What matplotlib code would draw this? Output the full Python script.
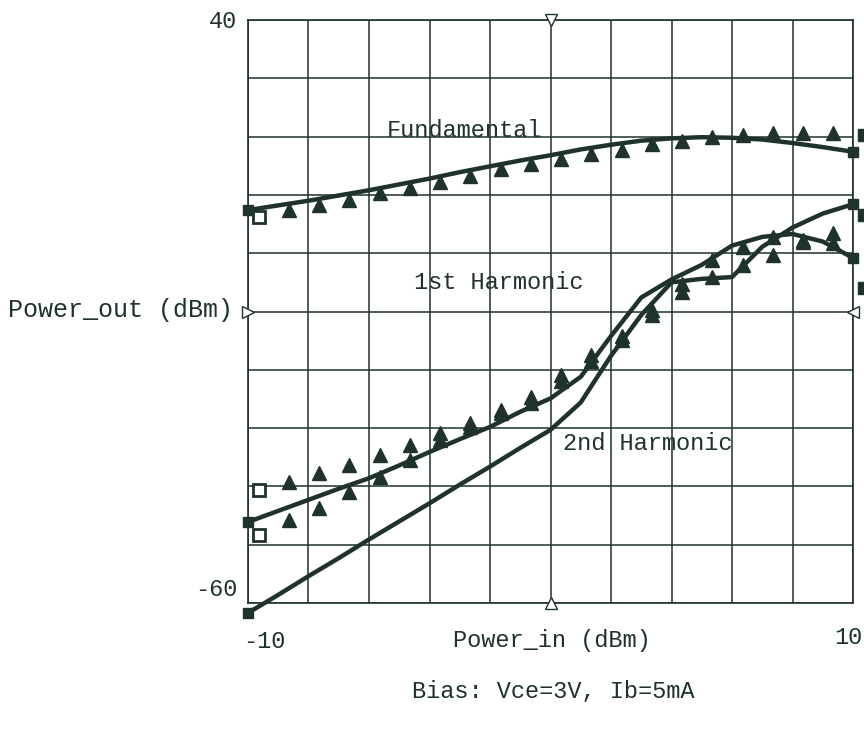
import matplotlib
matplotlib.use("Agg")
import matplotlib.pyplot as plt

# simulated curves, input power in 1 dBm steps
pin_sim = [-10, -9, -8, -7, -6, -5, -4, -3, -2, -1, 0, 1, 2, 3, 4, 5, 6, 7, 8, 9, 10]
fund_sim = [7.4, 8.2, 9.0, 9.9, 10.8, 11.8, 12.8, 13.9, 14.9, 15.9, 16.8,
            17.8, 18.6, 19.3, 19.7, 19.9, 19.8, 19.5, 18.9, 18.2, 17.4]
harm1_sim = [-46.1, -44.2, -42.3, -40.4, -38.6, -36.4, -34.1, -31.9, -29.8, -27.2, -24.9,
             -21.2, -14.2, -7.6, -4.5, -2.0, 1.3, 2.8, 3.3, 2.0, -0.8]
harm2_sim = [-61.7, -58.6, -55.4, -52.3, -49.1, -46.0, -42.9, -39.7, -36.6, -33.4, -30.3,
             -25.6, -17.6, -10.6, -5.0, -4.4, -4.1, 1.1, 4.4, 6.8, 8.4]

# measured points (plotted slightly offset from the sim grid)
pin_meas = [-9.65, -8.65, -7.65, -6.65, -5.65, -4.65, -3.65, -2.65, -1.65, -0.65, 0.35,
            1.35, 2.35, 3.35, 4.35, 5.35, 6.35, 7.35, 8.35, 9.35, 10.35]
fund_meas = [6.2, 7.4, 8.3, 9.2, 10.3, 11.2, 12.2, 13.3, 14.4, 15.3, 16.2,
             17.0, 17.7, 18.7, 19.2, 19.9, 20.2, 20.6, 20.6, 20.6, 20.3]
meas_a = [-40.6, -39.2, -37.7, -36.3, -34.6, -32.9, -30.8, -29.1, -26.9, -24.7, -20.9,
          -17.5, -14.2, -9.7, -5.3, -1.2, 1.1, 2.8, 2.3, 3.5, 6.5]
meas_b = [-48.3, -45.8, -43.7, -41.0, -38.4, -35.5, -32.0, -29.8, -27.4, -25.7, -21.9,
          -18.5, -14.9, -10.6, -6.7, -4.1, -2.0, -0.3, 1.9, 1.7, -6.0]

ink = "#1f322e"
mono = "Liberation Mono"

fig = plt.figure(figsize=(8.64, 7.29), dpi=100)
ax = fig.add_axes([248 / 864, 126 / 729, 605 / 864, 583 / 729])
ax.set_xlim(-10, 10)
ax.set_ylim(-60, 40)
ax.set_xticks(range(-10, 11, 2))
ax.set_yticks(range(-60, 41, 10))
ax.tick_params(length=0, labelbottom=False, labelleft=False)
ax.grid(True, color=ink, lw=1.1)
for s in ax.spines.values():
    s.set_color(ink)
    s.set_linewidth(1.2)

for ys in (fund_sim, harm1_sim, harm2_sim):
    ax.plot(pin_sim, ys, color=ink, lw=3.2, solid_capstyle="butt", clip_on=False, zorder=3)
    ax.plot([pin_sim[0], pin_sim[-1]], [ys[0], ys[-1]], ls="none", marker="s", ms=7,
            color=ink, clip_on=False, zorder=4)

for ys in (fund_meas, meas_a, meas_b):
    ax.plot(pin_meas[1:-1], ys[1:-1], ls="none", marker="^", ms=10, color=ink,
            clip_on=False, zorder=4)
    ax.plot(pin_meas[0], ys[0], ls="none", marker="s", ms=8, mfc="white", mec=ink,
            mew=2, clip_on=False, zorder=4)
    ax.plot(pin_meas[-1], ys[-1], ls="none", marker="s", ms=9, color=ink,
            clip_on=False, zorder=4)

# small hollow markers at the middle of each frame side
edge = dict(ls="none", ms=9, mfc="white", mec=ink, mew=1, clip_on=False, zorder=5)
ax.plot(0, 40, marker="v", **edge)
ax.plot(0, -60, marker="^", **edge)
ax.plot(-10, -10, marker=">", **edge)
ax.plot(10, -10, marker="<", **edge)

tk = dict(family=mono, fontsize=17, color=ink)
ax.text(-5.4, 21.0, "Fundamental", va="center", ha="left", zorder=2, **tk)
ax.text(-4.5, -5.1, "1st Harmonic", va="center", ha="left", zorder=2, **tk)
ax.text(0.4, -32.6, "2nd Harmonic", va="center", ha="left", zorder=2, **tk)

fig.text(237 / 864, 1 - 22 / 729, "40", ha="right", va="center", **tk)
fig.text(237 / 864, 1 - 590 / 729, "-60", ha="right", va="center", **tk)
fig.text(8 / 864, 1 - 310 / 729, "Power_out (dBm)", ha="left", va="center",
         family=mono, fontsize=18, color=ink)
fig.text(243 / 864, 1 - 641 / 729, "-10", ha="left", va="center", **tk)
fig.text(862 / 864, 1 - 637 / 729, "10", ha="right", va="center", **tk)
fig.text(552 / 864, 1 - 641 / 729, "Power_in (dBm)", ha="center", va="center", **tk)
fig.text(553 / 864, 1 - 691 / 729, "Bias: Vce=3V, Ib=5mA", ha="center", va="center", **tk)

fig.savefig("out.png", dpi=100, facecolor="white")
